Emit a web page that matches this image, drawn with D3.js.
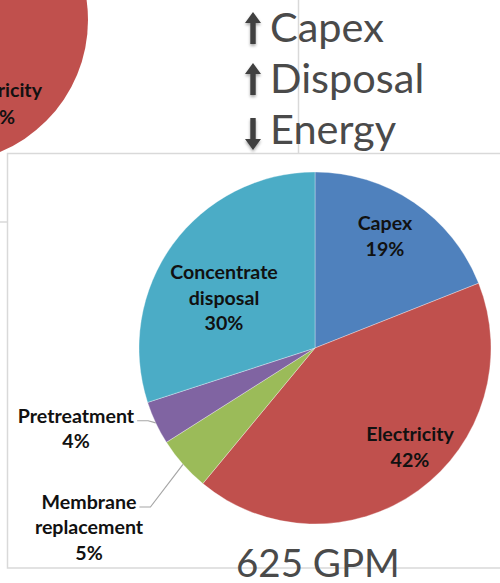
<!DOCTYPE html>
<html>
<head>
<meta charset="utf-8">
<script src="https://cdn.jsdelivr.net/npm/d3@7"></script>
<style>
  html, body { margin: 0; padding: 0; background: #fff; }
  svg { display: block; }
</style>
</head>
<body>
<svg id="chart" width="500" height="583"></svg>
<script>
// Cost breakdown at 625 GPM (share of total, %)
const categories = ["Capex", "Electricity", "Membrane replacement", "Pretreatment", "Concentrate disposal"];
const shares = [19, 42, 5, 4, 30];
const sliceColors = ["#4F81BD", "#C0504D", "#9BBB59", "#8064A2", "#4BACC6"];

// Headline drivers shown beside the chart
const drivers = ["Capex", "Disposal", "Energy"];
const driverDirections = ["up", "up", "down"];
const flowLabel = "625 GPM";

// Label placement: inside labels are placed in polar terms, outside labels by offset from the pie centre
const insideLabel = {
  "Capex":                { angleShift: -2.2, radiusFrac: 0.75 },
  "Electricity":          { angleShift: -7.8, radiusFrac: 0.78 },
  "Concentrate disposal": { angleShift: -7.2, radiusFrac: 0.59 }
};
const outsideLabel = {
  "Pretreatment":         { dx: -239, dy: 80.5 },
  "Membrane replacement": { dx: -226, dy: 179.5 }
};

const svg = d3.select("#chart");
const labelFont = "Lato, 'Liberation Sans', sans-serif";
const headFont = "Lato, 'Noto Sans', sans-serif";
const labelSize = 19.6;
const inkGrey = "#4a4a4a";

// ---- frames of neighbouring panels ----
const frame = svg.append("g").attr("stroke", "#d9d9d9").attr("stroke-width", 1.5).attr("fill", "none");
frame.append("line").attr("x1", 298.5).attr("x2", 298.5).attr("y1", 0).attr("y2", 153);
frame.append("line").attr("x1", 0).attr("x2", 7).attr("y1", 222).attr("y2", 222);

// ---- neighbouring pie, mostly beyond the page edge ----
const sideCx = -55, sideCy = 20, sideR = 143;
svg.append("path")
  .attr("transform", `translate(${sideCx},${sideCy})`)
  .attr("d", d3.arc().innerRadius(0).outerRadius(sideR)({ startAngle: 0, endAngle: 2 * Math.PI }))
  .attr("fill", sliceColors[1]);
const sideLbl = svg.append("text")
  .attr("font-family", labelFont).attr("font-weight", 700).attr("font-size", labelSize)
  .attr("fill", "#111").attr("text-anchor", "end");
sideLbl.append("tspan").attr("x", 42).attr("y", 97).text("Electricity");
sideLbl.append("tspan").attr("x", 15).attr("y", 124).text("%");

frame.raise();
// this chart's own frame
svg.append("rect")
  .attr("x", 7.5).attr("y", 153.5).attr("width", 520).attr("height", 414.5)
  .attr("fill", "none").attr("stroke", "#d9d9d9").attr("stroke-width", 1.5);

// ---- main pie ----
const cx = 315, cy = 348, R = 176;
const data = categories.map((c, i) => ({ category: c, share: shares[i], color: sliceColors[i] }));
const pie = d3.pie().sort(null).value(d => d.share).startAngle(0).endAngle(2 * Math.PI);
const arcs = pie(data);
const arc = d3.arc().innerRadius(0).outerRadius(R);

const g = svg.append("g").attr("transform", `translate(${cx},${cy})`);
g.selectAll("path.slice").data(arcs).join("path")
  .attr("class", "slice")
  .attr("d", arc)
  .attr("fill", d => d.data.color)
  .attr("stroke", "rgba(255,255,255,0.55)")
  .attr("stroke-width", 0.6);

const polar = (a, r) => [r * Math.sin(a), -r * Math.cos(a)];
const lineH = 25.5;

function labelLines(d) {
  return [...d.data.category.split(" "), d.data.share + "%"];
}
function addLabel(x, y, lines) {
  const t = g.append("text")
    .attr("font-family", labelFont).attr("font-weight", 700).attr("font-size", labelSize)
    .attr("fill", "#111").attr("text-anchor", "middle");
  return lines.map((s, i) => t.append("tspan").attr("x", x)
    .attr("y", y + (i - (lines.length - 1) / 2) * lineH)
    .attr("dy", "0.35em").text(s));
}

// inside labels
arcs.filter(d => insideLabel[d.data.category]).forEach(d => {
  const p = insideLabel[d.data.category];
  const mid = (d.startAngle + d.endAngle) / 2 + p.angleShift * Math.PI / 180;
  const [x, y] = polar(mid, R * p.radiusFrac);
  addLabel(x, y, labelLines(d));
});

// outside labels with leader lines
arcs.filter(d => outsideLabel[d.data.category]).forEach(d => {
  const p = outsideLabel[d.data.category];
  const lines = labelLines(d);
  const spans = addLabel(p.dx, p.dy, lines);
  const firstW = spans[0].node().getComputedTextLength();
  const y0 = p.dy - (lines.length - 1) / 2 * lineH + 5;
  const x0 = p.dx + firstW / 2 + 3;
  const mid = (d.startAngle + d.endAngle) / 2;
  const [ex, ey] = polar(mid, R);
  g.append("polyline")
    .attr("points", [[x0, y0], [x0 + 11, y0], [ex, ey]].map(q => q.join(",")).join(" "))
    .attr("fill", "none").attr("stroke", "#a6a6a6").attr("stroke-width", 1.2);
});

// ---- driver arrows and captions ----
const defs = svg.append("defs");
const shadow = defs.append("filter").attr("id", "soft")
  .attr("x", "-50%").attr("y", "-50%").attr("width", "200%").attr("height", "200%");
shadow.append("feDropShadow").attr("dx", 0).attr("dy", 2).attr("stdDeviation", 1.4)
  .attr("flood-color", "#000").attr("flood-opacity", 0.35);

const driverY = d3.scalePoint().domain(drivers).range([42, 144]);
const ax = 253;
function arrowPath(dir, base) {
  const hw = 8, sw = 2.7, headH = 11, len = 32;
  // tip and tail along the vertical, head at the tip
  const tip = dir === "up" ? base - len + 2 : base + 6;
  const tail = dir === "up" ? base + 2 : base + 6 - len;
  const s = dir === "up" ? 1 : -1;
  return `M${ax},${tip} L${ax + hw},${tip + s * headH} L${ax + sw},${tip + s * headH} L${ax + sw},${tail} ` +
         `L${ax - sw},${tail} L${ax - sw},${tip + s * headH} L${ax - hw},${tip + s * headH} Z`;
}
drivers.forEach((name, i) => {
  const base = driverY(name);
  svg.append("path")
    .attr("d", arrowPath(driverDirections[i], base))
    .attr("fill", "#404040").attr("filter", "url(#soft)");
  svg.append("text")
    .attr("x", 270).attr("y", base)
    .attr("font-family", headFont).attr("font-size", 41.5)
    .attr("fill", inkGrey).text(name);
});

svg.append("text")
  .attr("x", 236).attr("y", 577)
  .attr("font-family", headFont).attr("font-size", 38.5)
  .attr("fill", inkGrey).text(flowLabel);
</script>
</body>
</html>
